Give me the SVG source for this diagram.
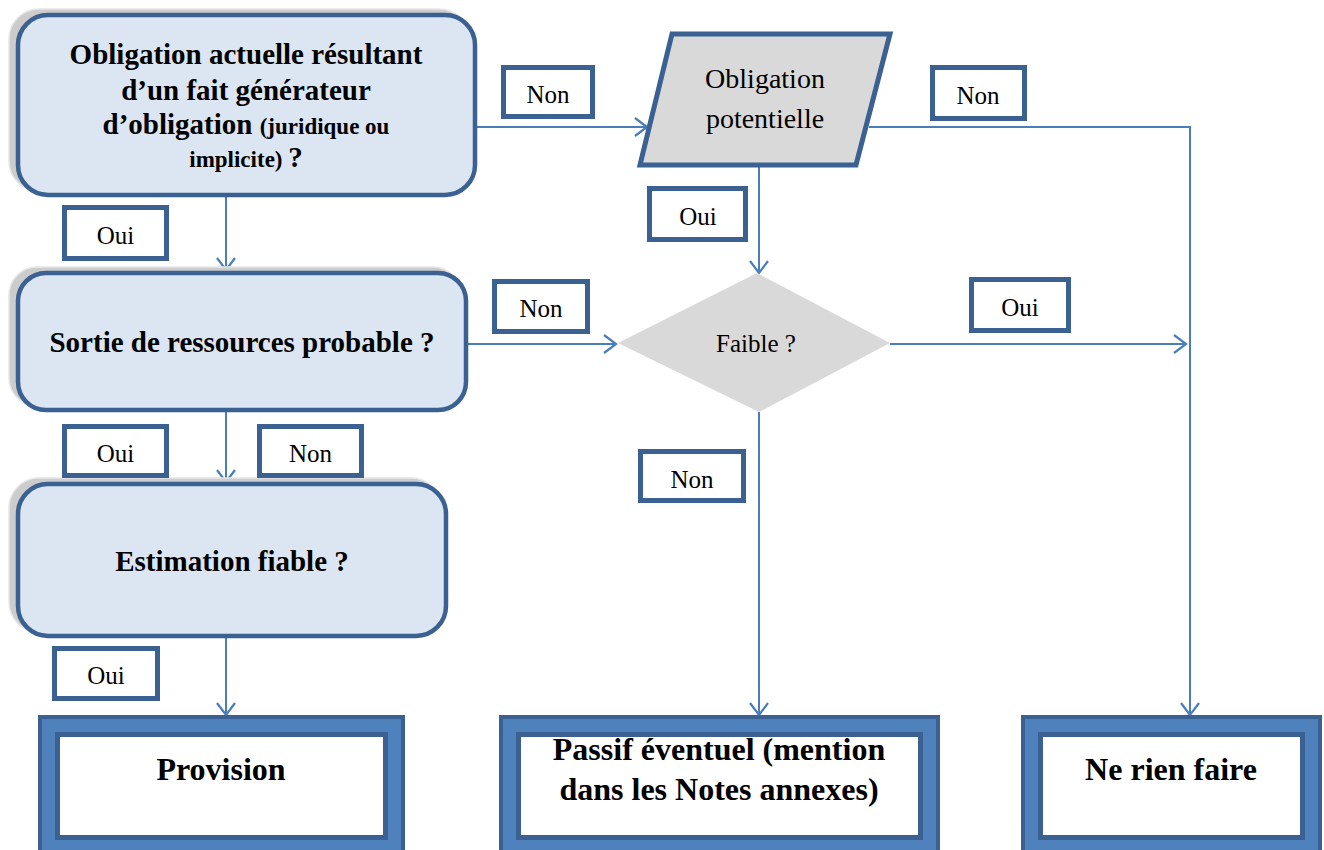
<svg xmlns="http://www.w3.org/2000/svg" width="1324" height="850" viewBox="0 0 1324 850">
<style>
.q{fill:#DCE6F2;stroke:#3A6191;stroke-width:4.5}
.sh{fill:#CCCCCC;stroke:#E6E6E6;stroke-width:1.5}
.gray{fill:#D9D9D9}
.lbl{fill:#FFFFFF;stroke:#3A6191;stroke-width:5}
.outer{fill:#4F81BD;stroke:#3A6191;stroke-width:4}
.inner{fill:#FFFFFF;stroke:#3A6191;stroke-width:5}
.conn{fill:none;stroke:#4A7EBB;stroke-width:2}
text{font-family:"Liberation Serif","Times New Roman",serif;fill:#000;text-anchor:middle}
.b29{font-size:29px;font-weight:bold}
.b23{font-size:23px;font-weight:bold}
.b32{font-size:32px;font-weight:bold}
.r25{font-size:25px}
.r28{font-size:28px}
</style>
<defs>
<marker id="arr" viewBox="0 0 12 18" refX="12" refY="9" markerWidth="12" markerHeight="18" orient="auto" markerUnits="userSpaceOnUse" overflow="visible">
<path d="M0,0 L12,9 L0,18" fill="none" stroke="#4A7EBB" stroke-width="2.2"/>
</marker>
</defs>

<g id="connectors">
<path class="conn" d="M226,197 V270" marker-end="url(#arr)"/>
<path class="conn" d="M477,127 H647" marker-end="url(#arr)"/>
<path class="conn" d="M869,127 H1190 V715" marker-end="url(#arr)"/>
<path class="conn" d="M759,167 V273" marker-end="url(#arr)"/>
<path class="conn" d="M468,344 H616" marker-end="url(#arr)"/>
<path class="conn" d="M890,344 H1186" marker-end="url(#arr)"/>
<path class="conn" d="M759,412 V715" marker-end="url(#arr)"/>
<path class="conn" d="M226,412 V482" marker-end="url(#arr)"/>
<path class="conn" d="M226,638 V715" marker-end="url(#arr)"/>
</g>

<g id="q1">
<rect class="sh" x="9" y="9" width="460" height="182" rx="30"/>
<rect class="q" x="18" y="15" width="457" height="180" rx="30"/>
<text class="b29" x="246" y="64">Obligation actuelle résultant</text>
<text class="b29" x="246" y="100">d’un fait générateur</text>
<text x="246" y="134"><tspan class="b29">d’obligation </tspan><tspan class="b23">(juridique ou</tspan></text>
<text x="246" y="167"><tspan class="b23">implicite) </tspan><tspan class="b29">?</tspan></text>
</g>

<g id="q2">
<rect class="sh" x="9" y="267" width="452" height="139" rx="28"/>
<rect class="q" x="18" y="273" width="448" height="137" rx="28"/>
<text class="b29" x="242" y="352">Sortie de ressources probable ?</text>
</g>

<g id="q3">
<rect class="sh" x="9" y="478" width="432" height="154" rx="30"/>
<rect class="q" x="18" y="484" width="428" height="152" rx="30"/>
<text class="b29" x="232" y="571">Estimation fiable ?</text>
</g>

<g id="potentielle">
<polygon points="672,34 890,34 856,165 640,165" class="gray" stroke="#3A6191" stroke-width="5"/>
<text class="r28" x="765" y="88">Obligation</text>
<text class="r28" x="765" y="128">potentielle</text>
</g>

<g id="faible">
<polygon points="757,273 890,343 759,412 618,343" class="gray"/>
<text class="r25" x="756" y="352">Faible ?</text>
</g>

<g id="provision">
<rect class="outer" x="40" y="717" width="363" height="150"/>
<rect class="inner" x="57.5" y="734.5" width="328" height="103"/>
<text class="b32" x="221" y="780">Provision</text>
</g>

<g id="passif">
<rect class="outer" x="501" y="717" width="437" height="150"/>
<rect class="inner" x="518.5" y="734.5" width="402" height="103"/>
<text class="b32" x="719" y="760">Passif éventuel (mention</text>
<text class="b32" x="719" y="800">dans les Notes annexes)</text>
</g>

<g id="rien">
<rect class="outer" x="1023" y="717" width="297" height="150"/>
<rect class="inner" x="1040.5" y="734.5" width="262" height="103"/>
<text class="b32" x="1171" y="780">Ne rien faire</text>
</g>

<g id="labels">
<g id="l-non1"><rect class="lbl" x="503.5" y="67.5" width="89" height="49"/><text class="r25" x="548" y="103">Non</text></g>
<g id="l-oui1"><rect class="lbl" x="64.5" y="207.5" width="102" height="51"/><text class="r25" x="115.5" y="244">Oui</text></g>
<g id="l-non2"><rect class="lbl" x="932.5" y="67.5" width="92" height="51"/><text class="r25" x="978" y="104">Non</text></g>
<g id="l-oui2"><rect class="lbl" x="649.5" y="188.5" width="96" height="51"/><text class="r25" x="698" y="225">Oui</text></g>
<g id="l-non3"><rect class="lbl" x="494.5" y="281.5" width="93" height="50"/><text class="r25" x="541" y="317">Non</text></g>
<g id="l-oui3"><rect class="lbl" x="971.5" y="279.5" width="97" height="51"/><text class="r25" x="1020" y="316">Oui</text></g>
<g id="l-oui4"><rect class="lbl" x="64.5" y="426.5" width="102" height="49"/><text class="r25" x="115.5" y="462">Oui</text></g>
<g id="l-non4"><rect class="lbl" x="259.5" y="426.5" width="102" height="49"/><text class="r25" x="310.5" y="462">Non</text></g>
<g id="l-non5"><rect class="lbl" x="640.5" y="451.5" width="103" height="49"/><text class="r25" x="692" y="488">Non</text></g>
<g id="l-oui5"><rect class="lbl" x="54.5" y="648.5" width="103" height="50"/><text class="r25" x="106" y="684">Oui</text></g>
</g>
</svg>
